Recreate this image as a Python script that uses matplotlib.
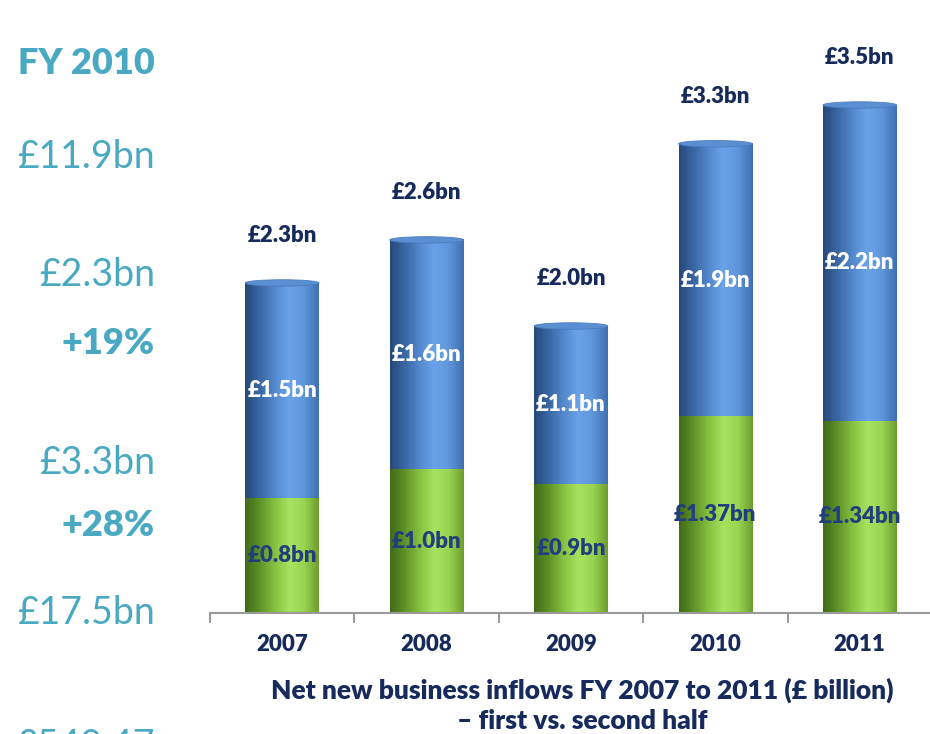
import numpy as np
import matplotlib
matplotlib.use("Agg")
import matplotlib.pyplot as plt
from matplotlib.colors import LinearSegmentedColormap
from matplotlib.patches import Ellipse

plt.rcParams["font.family"] = ["Lato", "DejaVu Sans"]

years = ["2007", "2008", "2009", "2010", "2011"]
first_half = [0.8, 1.0, 0.9, 1.37, 1.34]
second_half = [1.5, 1.6, 1.1, 1.9, 2.2]
first_labels = ["£0.8bn", "£1.0bn", "£0.9bn", "£1.37bn", "£1.34bn"]
second_labels = ["£1.5bn", "£1.6bn", "£1.1bn", "£1.9bn", "£2.2bn"]
total_labels = ["£2.3bn", "£2.6bn", "£2.0bn", "£3.3bn", "£3.5bn"]

side_texts = [
    ("FY 2010", 63, "heavy", 26),
    ("£11.9bn", 157, "normal", 27),
    ("£2.3bn", 275, "normal", 27),
    ("+19%", 343, "heavy", 26),
    ("£3.3bn", 463, "normal", 27),
    ("+28%", 525, "heavy", 26),
    ("£17.5bn", 613, "normal", 27),
    ("£540.47", 746, "normal", 27),
]

navy = "#172a5c"
mid_navy = "#213f7c"
teal = "#4aa9c2"

blue_cmap = LinearSegmentedColormap.from_list(
    "cyl_blue", ["#26497a", "#3a67a3", "#5388cc", "#6aa3ea", "#5f95db", "#3f6fae"])
green_cmap = LinearSegmentedColormap.from_list(
    "cyl_green", ["#3f6a17", "#5f9228", "#86c040", "#a7e35e", "#9ad552", "#6d9c2e"])

fig = plt.figure(figsize=(9.3, 7.34), dpi=100)
ax = fig.add_axes([210 / 930, 121 / 734, 722 / 930, 574 / 734])

width = 0.51
grad = np.linspace(0, 1, 256).reshape(1, -1)
x = np.arange(len(years))

for i in x:
    left, right = i - width / 2, i + width / 2
    g, b = first_half[i], second_half[i]
    ax.imshow(grad, extent=[left, right, 0, g], aspect="auto", cmap=green_cmap,
              zorder=2, interpolation="bilinear")
    ax.imshow(grad, extent=[left, right, g, g + b], aspect="auto", cmap=blue_cmap,
              zorder=2, interpolation="bilinear")
    # rounded cylinder top
    ax.add_patch(Ellipse((i, g + b), width, 0.045, facecolor="#5a8fd2",
                         edgecolor="#4a7dbf", linewidth=0.6, zorder=3))
    ax.text(i, g / 2, first_labels[i], ha="center", va="center", color=mid_navy,
            fontsize=16, fontweight="heavy", zorder=4)
    ax.text(i, g + b / 2, second_labels[i], ha="center", va="center", color="white",
            fontsize=16, fontweight="heavy", zorder=4)
    ax.text(i, g + b + 0.33, total_labels[i], ha="center", va="center", color=navy,
            fontsize=16, fontweight="heavy", zorder=4)

ax.set_xlim(-0.5, 4.5)
ax.set_ylim(0, 4.0)
for side in ["top", "right", "left"]:
    ax.spines[side].set_visible(False)
ax.spines["bottom"].set_color("#9a9a9a")
ax.spines["bottom"].set_linewidth(1.5)
ax.set_yticks([])
ax.set_xticks(x)
ax.set_xticklabels(years, fontsize=16, fontweight="heavy", color=navy)
ax.set_xticks(np.arange(-0.5, 4.6, 1.0), minor=True)
ax.tick_params(axis="x", which="major", length=0, pad=15)
ax.tick_params(axis="x", which="minor", length=7, width=1.5, color="#9a9a9a")

fig.text(582 / 930, 1 - 690 / 734, "Net new business inflows FY 2007 to 2011 (£ billion)",
         ha="center", va="center", fontsize=19, fontweight="heavy", color=navy)
fig.text(582 / 930, 1 - 721 / 734, "– first vs. second half",
         ha="center", va="center", fontsize=19, fontweight="heavy", color=navy)

for txt, y, weight, size in side_texts:
    fig.text(155 / 930, 1 - y / 734, txt, ha="right", va="center",
             fontsize=size, fontweight=weight, color=teal)

fig.savefig("out.png", dpi=100)
